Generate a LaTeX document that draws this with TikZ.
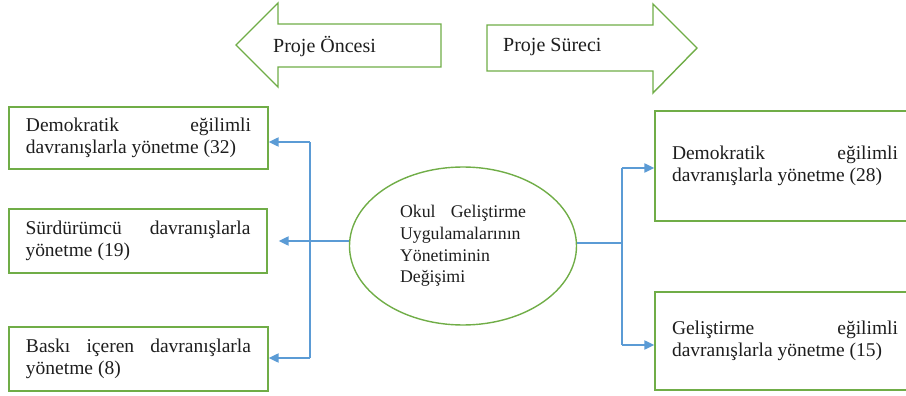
\documentclass[tikz,border=0pt]{standalone}
\usepackage{fontspec}
\setmainfont{Liberation Serif}
\usetikzlibrary{shapes.geometric,arrows.meta}
\definecolor{gbox}{RGB}{112,173,71}
\definecolor{bline}{RGB}{91,155,213}
\definecolor{txt}{RGB}{30,30,30}
\tikzset{
  box/.style={draw=gbox, line width=1.4pt, fill=white, inner sep=0pt, text=txt},
  ellnode/.style={ellipse, draw=gbox, line width=1.4pt, inner sep=0pt, text=txt},
  bigarrow/.style={draw=gbox, line width=1.4pt, fill=white, line join=miter},
  conn/.style={draw=bline, line width=2.2pt},
  arr/.style={conn, -{Triangle[length=10pt,width=9pt]}},
  lbl/.style={inner sep=0pt, text=txt, font=\fontsize{20}{22}\selectfont}
}
\newcommand{\boxtxt}[2]{\parbox{#1}{\fontsize{19.5}{21.7}\selectfont #2}}
\begin{document}
\begin{tikzpicture}[x=1pt,y=-1pt]
\useasboundingbox (0,0) rectangle (906,396);
\clip (0,0) rectangle (906,396);
% big arrows
\draw[bigarrow] (236,45) -- (278,3) -- (278,24) -- (441,24) -- (441,67) -- (278,67) -- (278,87) -- cycle;
\node[lbl, anchor=base west] (pone) at (273,53) {Proje Öncesi};
\draw[bigarrow] (697,48) -- (653,4) -- (653,25) -- (487,25) -- (487,71) -- (653,71) -- (653,93) -- cycle;
\node[lbl, anchor=base west] (psur) at (503,52) {Proje Süreci};
% left boxes
\node[box, minimum width=259pt, minimum height=62pt] (b1) at (138.5,138)
  {\boxtxt{225pt}{Demokratik eğilimli\linebreak davranışlarla yönetme (32)}};
\node[box, minimum width=258pt, minimum height=64pt] (b2) at (138,241)
  {\boxtxt{225pt}{Sürdürümcü davranışlarla\linebreak yönetme (19)}};
\node[box, minimum width=259pt, minimum height=64pt] (b3) at (138.5,359)
  {\boxtxt{225pt}{Baskı içeren davranışlarla\linebreak yönetme (8)}};
% right boxes
\node[box, minimum width=260pt, minimum height=110pt] (r1) at (785,166)
  {\boxtxt{226pt}{Demokratik eğilimli\linebreak davranışlarla yönetme (28)}};
\node[box, minimum width=260pt, minimum height=98pt] (r2) at (785,341)
  {\boxtxt{226pt}{Geliştirme eğilimli\linebreak davranışlarla yönetme (15)}};
% ellipse
\node[ellnode, minimum width=227pt, minimum height=158pt] (ell) at (463,246)
  {\parbox{126pt}{\fontsize{17.8}{21.7}\selectfont Okul Geliştirme\linebreak Uygulamalarının\\ Yönetiminin\\ Değişimi}};
% left connectors
\coordinate (jl) at (310,241);
\coordinate (t1) at (310,142);
\coordinate (t3) at (310,358);
\draw[conn] (jl -| ell.west) -- (jl);
\draw[conn] (t1) -- (t3);
\draw[arr] (t1) -- (t1 -| b1.east);
\draw[arr] (jl) -- ([xshift=11pt]jl -| b2.east);
\draw[arr] (t3) -- (t3 -| b3.east);
% right connectors
\coordinate (jr) at (622,243);
\coordinate (u1) at (622,168);
\coordinate (u2) at (622,345);
\draw[conn] (jr -| ell.east) -- (jr);
\draw[conn] (u1) -- (u2);
\draw[arr] (u1) -- (u1 -| r1.west);
\draw[arr] (u2) -- (u2 -| r2.west);
\end{tikzpicture}
\end{document}
